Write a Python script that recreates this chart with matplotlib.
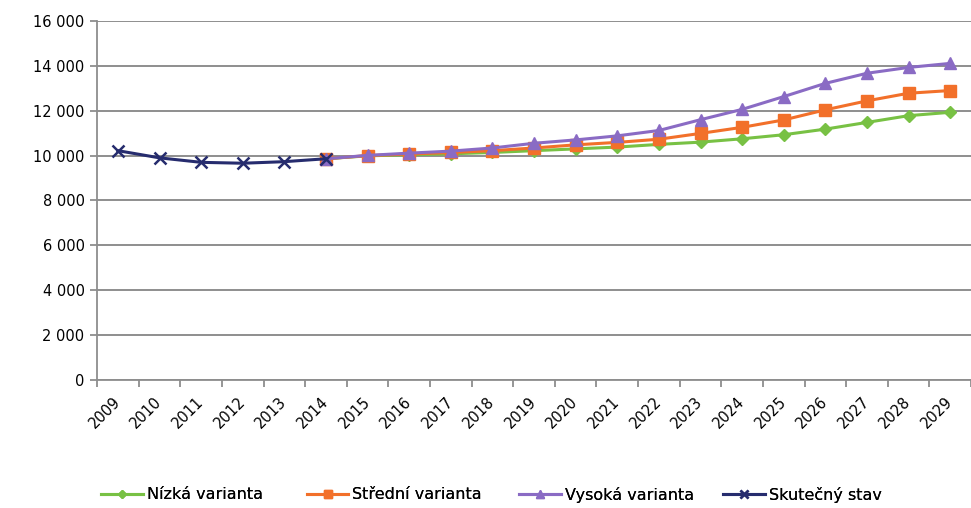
import matplotlib.pyplot as plt
from matplotlib.ticker import FuncFormatter, MultipleLocator
from matplotlib.transforms import ScaledTranslation

roky = [str(r) for r in range(2009, 2030)]

# skutečný stav 2009-2014
skutecny = [10220, 9900, 9700, 9660, 9730, 9860]

# projekce 2014-2029
nizka = [9860, 9990, 10040, 10080, 10140, 10220, 10300, 10380,
         10500, 10600, 10750, 10930, 11180, 11480, 11780, 11930]
stredni = [9860, 10000, 10070, 10140, 10220, 10340, 10480, 10590,
           10730, 10990, 11260, 11590, 12040, 12440, 12780, 12900]
vysoka = [9860, 10010, 10110, 10200, 10340, 10550, 10700, 10880,
          11120, 11600, 12060, 12630, 13220, 13670, 13930, 14110]

plt.rcParams['font.family'] = 'DejaVu Sans'

fig = plt.figure(figsize=(9.71, 5.08), dpi=100)
ax = fig.add_axes([0.1, 0.252, 0.9, 0.7067])

x_skut = list(range(len(skutecny)))
x_proj = list(range(5, 5 + len(nizka)))

h1, = ax.plot(x_proj, nizka, color='#78C144', lw=2.2, marker='D', ms=6.5,
              label='Nízká varianta', zorder=3)
h2, = ax.plot(x_proj, stredni, color='#F2702A', lw=2.2, marker='s', ms=8,
              label='Střední varianta', zorder=4)
h3, = ax.plot(x_proj, vysoka, color='#8A6BC4', lw=2.2, marker='^', ms=9,
              label='Vysoká varianta', zorder=5)
h4, = ax.plot(x_skut, skutecny, color='#262C6E', lw=2.2, marker='x', ms=8,
              mew=1.8, label='Skutečný stav', zorder=6)

ax.set_ylim(0, 16000)
ax.set_xlim(-0.5, 20.43)
ax.yaxis.set_major_locator(MultipleLocator(2000))
ax.yaxis.set_major_formatter(
    FuncFormatter(lambda v, p: f'{int(v):,}'.replace(',', ' ')))
ax.grid(axis='y', color='#8E8E8E', lw=1.4)
ax.set_axisbelow(True)

# značky mezi kategoriemi, popisky uprostřed
ax.set_xticks([i - 0.5 for i in range(len(roky) + 1)])
ax.set_xticklabels([])
ax.set_xticks(range(len(roky)), minor=True)
ax.set_xticklabels(roky, minor=True, rotation=45, ha='right',
                   va='center', rotation_mode='anchor', fontsize=10.5)
posun = ScaledTranslation(0.03, 0, fig.dpi_scale_trans)
for lbl in ax.get_xticklabels(minor=True):
    lbl.set_transform(lbl.get_transform() + posun)
ax.tick_params(axis='x', which='major', length=5, color='#8E8E8E', width=1.3)
ax.tick_params(axis='x', which='minor', length=0, pad=14)
ax.tick_params(axis='y', length=5, color='#8E8E8E', width=1.3,
               labelsize=10.5, pad=4)

for s in ['top', 'right']:
    ax.spines[s].set_visible(False)
for s in ['left', 'bottom']:
    ax.spines[s].set_color('#8E8E8E')
    ax.spines[s].set_linewidth(1.3)

# legenda: každá položka zvlášť, aby seděly rozestupy
for h, x0 in zip([h1, h2, h3, h4], [0.104, 0.316, 0.535, 0.745]):
    leg = fig.legend(handles=[h], loc='center left',
                     bbox_to_anchor=(x0, 0.026), frameon=False,
                     fontsize=11.5, handlelength=2.6, handletextpad=0.25,
                     borderpad=0, borderaxespad=0, markerscale=0.7)
    fig.add_artist(leg)

fig.savefig('out.png', dpi=100)
